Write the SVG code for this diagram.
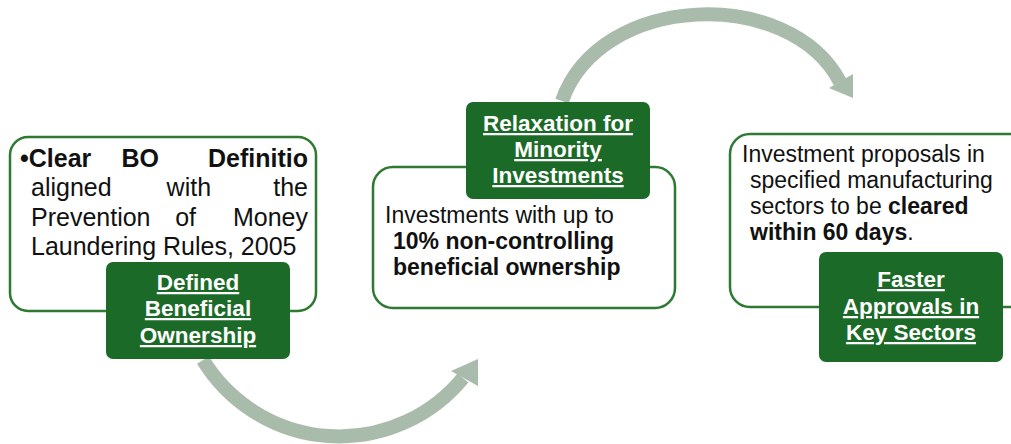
<svg xmlns="http://www.w3.org/2000/svg" width="1011" height="444" viewBox="0 0 1011 444">
  <style>
    .card { fill: #ffffff; stroke: #2e7a33; stroke-width: 2.5; }
    .tag { fill: #1c6a27; }
    .tag-text { font-family: "Liberation Sans", Arial, sans-serif; font-weight: 700; font-size: 22.5px; fill: #ffffff; text-anchor: middle; text-decoration: underline; }
    .body { font-family: "Liberation Sans", Arial, sans-serif; font-size: 23px; fill: #111111; }
    .big { font-size: 25px; }
    .b { font-weight: 700; }
    .flow { fill: none; stroke: #a9bbab; stroke-width: 14; }
    .head { fill: #a9bbab; }
  </style>

  <!-- curved flow arrows -->
  <g id="connectors">
    <path class="flow" d="M 203 360 A 160 160 0 0 0 463 378"/>
    <polygon class="head" points="451,371 478,359 478,386"/>
    <path class="flow" d="M 562 101 C 600 -8 790 -14 840 82"/>
    <polygon class="head" points="829,88 853,74 853,98"/>
  </g>

  <!-- step 1 -->
  <g id="node-beneficial-ownership">
    <rect class="card" x="10" y="137" width="306" height="174" rx="18"/>
    <text class="body big" y="167">
      <tspan x="20" class="b">•Clear</tspan>
      <tspan x="166" class="b" text-anchor="end">BO</tspan>
      <tspan x="308" class="b" text-anchor="end">Definitio</tspan>
    </text>
    <text class="body big" y="196">
      <tspan x="31">aligned</tspan>
      <tspan x="218" text-anchor="end">with</tspan>
      <tspan x="308" text-anchor="end">the</tspan>
    </text>
    <text class="body big" y="226">
      <tspan x="31">Prevention</tspan>
      <tspan x="203" text-anchor="end">of</tspan>
      <tspan x="308" text-anchor="end">Money</tspan>
    </text>
    <text class="body big" x="31" y="255">Laundering Rules, 2005</text>
    <rect class="tag" x="106" y="262" width="184" height="97" rx="7"/>
    <text class="tag-text" x="198" y="290">Defined</text>
    <text class="tag-text" x="198" y="316">Beneficial</text>
    <text class="tag-text" x="198" y="343">Ownership</text>
  </g>

  <!-- step 2 -->
  <g id="node-minority-investments">
    <rect class="card" x="373" y="167" width="302" height="141" rx="20"/>
    <text class="body" x="385" y="223">Investments with up to</text>
    <text class="body b" x="393" y="249">10% non-controlling</text>
    <text class="body b" x="393" y="275">beneficial ownership</text>
    <rect class="tag" x="466" y="102" width="184" height="97" rx="7"/>
    <text class="tag-text" x="558" y="131">Relaxation for</text>
    <text class="tag-text" x="558" y="157">Minority</text>
    <text class="tag-text" x="558" y="183">Investments</text>
  </g>

  <!-- step 3 -->
  <g id="node-faster-approvals">
    <rect class="card" x="730" y="134" width="300" height="173" rx="20"/>
    <text class="body" x="742" y="162">Investment proposals in</text>
    <text class="body" x="750" y="188">specified manufacturing</text>
    <text class="body" x="750" y="214">sectors to be <tspan class="b">cleared</tspan></text>
    <text class="body" x="750" y="240"><tspan class="b">within 60 days</tspan>.</text>
    <rect class="tag" x="819" y="252" width="184" height="110" rx="7"/>
    <text class="tag-text" x="911" y="287">Faster</text>
    <text class="tag-text" x="911" y="314">Approvals in</text>
    <text class="tag-text" x="911" y="340">Key Sectors</text>
  </g>
</svg>
